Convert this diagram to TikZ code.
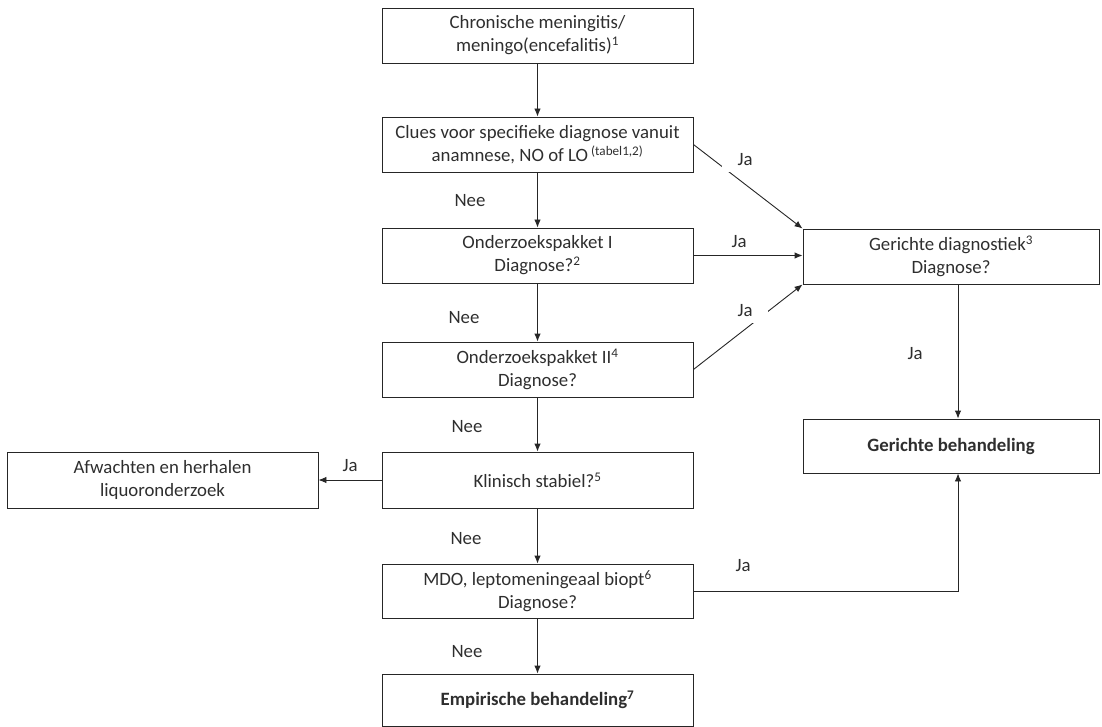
\documentclass[tikz,border=0pt]{standalone}
\usepackage{fontspec}
\setmainfont{Carlito}
\usetikzlibrary{arrows.meta}
\begin{document}
\begin{tikzpicture}[x=1pt,y=-1pt,
  every node/.style={font=\fontsize{18.8}{23}\selectfont, text=black!82},
  box/.style={draw=black!85, line width=0.9pt, rectangle, align=center, inner sep=0pt},
  cbox/.style={box, minimum width=311pt, minimum height=55pt},
  rbox/.style={box, minimum width=296pt, minimum height=55pt},
  arr/.style={draw=black!85, line width=0.9pt, -{Latex[length=8pt,width=6.5pt]}},
  lbl/.style={inner sep=0pt},
  gaplbl/.style={fill=white, inner sep=0pt, minimum width=46pt, minimum height=24pt}
]
\useasboundingbox (0,0) rectangle (1102,727);

\node[cbox] (b1) at (537.5,35.5) {Chronische meningitis/\\meningo(encefalitis)\textsuperscript{1}};
\node[cbox] (b2) at (537.5,144.5) {Clues voor specifieke diagnose vanuit\\anamnese, NO of LO\,\textsuperscript{(tabel1,2)}};
\node[cbox] (b3) at (537.5,255.5) {Onderzoekspakket I\\Diagnose?\textsuperscript{2}};
\node[cbox] (b4) at (537.5,369.5) {Onderzoekspakket II\textsuperscript{4}\\Diagnose?};
\node[cbox, minimum height=56pt] (b5) at (537.5,480) {Klinisch stabiel?\textsuperscript{5}};
\node[cbox, minimum height=54pt] (b6) at (537.5,591) {MDO, leptomeningeaal biopt\textsuperscript{6}\\Diagnose?};
\node[cbox, minimum height=52pt] (b7) at (537.5,700) {\textbf{Empirische behandeling\textsuperscript{7}}};
\node[rbox] (gd) at (951,256.5) {Gerichte diagnostiek\textsuperscript{3}\\Diagnose?};
\node[rbox, minimum height=54pt] (gb) at (951,446) {\textbf{Gerichte behandeling}};
\node[cbox, minimum height=56pt] (af) at (162.5,480) {Afwachten en herhalen\\liquoronderzoek};

\draw[arr] (b1) -- (b2);
\draw[arr] (b2) -- (b3);
\draw[arr] (b3) -- (b4);
\draw[arr] (b4) -- (b5);
\draw[arr] (b5) -- (b6);
\draw[arr] (b6) -- (b7);
\draw[arr] (b2.east) -- (gd.north west);
\draw[arr] (b3.east) -- (b3.east -| gd.west);
\draw[arr] (b4.east) -- (gd.south west);
\draw[arr] (b5.west) -- (af.east);
\draw[arr] ([xshift=7pt]gd.south) -- ([xshift=7pt]gb.north);
\draw[arr] (b6.east) -| ([xshift=7pt]gb.south);

\node[gaplbl] (j1) at (745,160) {Ja};
\node[lbl] (j2) at (739,242) {Ja};
\node[gaplbl] (j3) at (745,311) {Ja};
\node[lbl] (j4) at (915,354) {Ja};
\node[lbl] (j5) at (350,466) {Ja};
\node[lbl] (j6) at (743,566) {Ja};
\node[lbl] (n1) at (470,201) {Nee};
\node[lbl] (n2) at (464,318) {Nee};
\node[lbl] (n3) at (467,427) {Nee};
\node[lbl] (n4) at (466,539) {Nee};
\node[lbl] (n5) at (467,652) {Nee};
\end{tikzpicture}
\end{document}
